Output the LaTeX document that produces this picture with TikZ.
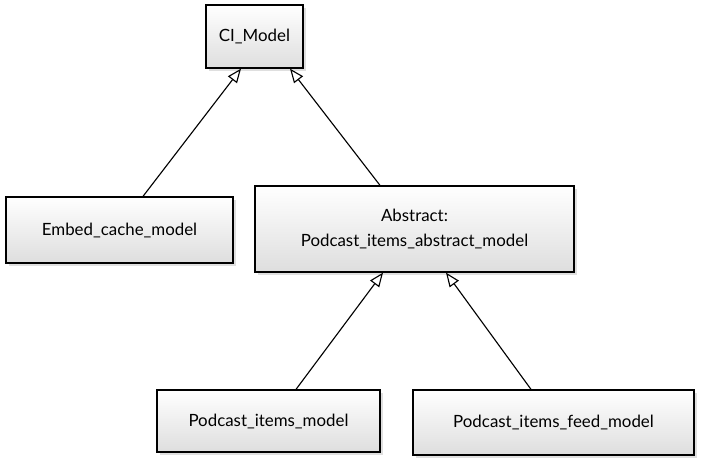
\documentclass[tikz,border=0pt]{standalone}
\usepackage{fontspec}
\setmainfont{Lato}
\usetikzlibrary{arrows.meta,calc,shadows}

\begin{document}
\begin{tikzpicture}[x=0.025cm,y=-0.025cm,
  classbox/.style={rectangle, draw, line width=0.9pt, top color=white, bottom color=black!13,
    drop shadow={shadow xshift=2pt, shadow yshift=-2pt, opacity=0.25}, align=center, font=\large},
  inherit/.style={-{Triangle[open,length=10pt,width=8pt]}, line width=0.8pt}]
\useasboundingbox (0,0) rectangle (701,459);
\node[classbox, minimum width=2.425cm, minimum height=1.575cm] (ci) at (254.5,36.5) {CI\_Model};
\node[classbox, minimum width=5.675cm, minimum height=1.65cm] (embed) at (119.5,230) {Embed\_cache\_model};
\node[classbox, minimum width=7.975cm, minimum height=2.15cm] (abstract) at (414.5,229) {Abstract:\\[4pt]Podcast\_items\_abstract\_model};
\node[classbox, minimum width=5.575cm, minimum height=1.55cm] (items) at (268.5,421) {Podcast\_items\_model};
\node[classbox, minimum width=7.025cm, minimum height=1.625cm] (feed) at (553.5,422.5) {Podcast\_items\_feed\_model};
\draw[inherit] ($(embed.north)+(23.5,0)$) -- ($(ci.south)+(-13.5,0)$);
\draw[inherit] ($(abstract.north)+(-34.5,0)$) -- ($(ci.south)+(35.5,0)$);
\draw[inherit] ($(items.north)+(27.5,0)$) -- ($(abstract.south)+(-31.5,0)$);
\draw[inherit] ($(feed.north)+(-22.5,0)$) -- ($(abstract.south)+(31.5,0)$);

\end{tikzpicture}
\end{document}
